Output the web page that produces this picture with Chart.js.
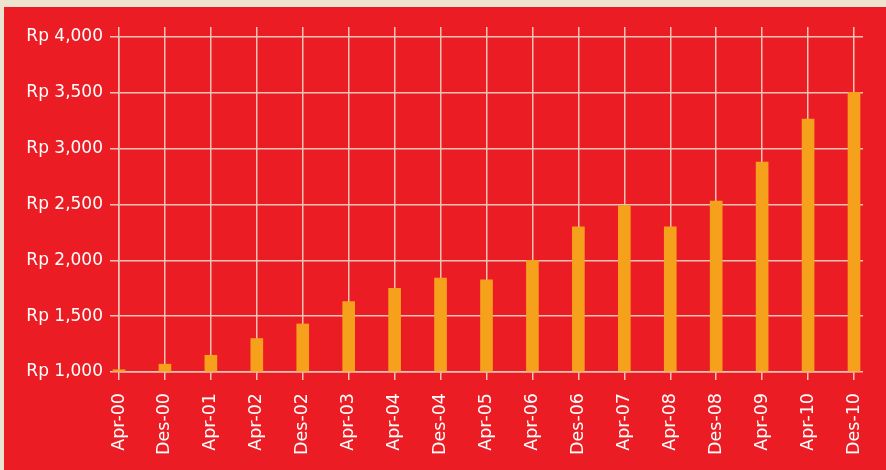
<!DOCTYPE html>
<html>
<head>
<meta charset="utf-8">
<script src="https://cdn.jsdelivr.net/npm/chart.js@4"></script>
<style>
  html, body { margin: 0; padding: 0; background: #ede4cf; }
  #panel { position: absolute; left: 4px; top: 7px; width: 882px; height: 463px; background: #ec1c24; }
</style>
</head>
<body>
<div id="panel"><canvas id="grafik"></canvas></div>
<script>
// ---------------- DATA ----------------
const periode = ['Apr-00', 'Des-00', 'Apr-01', 'Apr-02', 'Des-02', 'Apr-03', 'Apr-04', 'Des-04', 'Apr-05',
                 'Apr-06', 'Des-06', 'Apr-07', 'Apr-08', 'Des-08', 'Apr-09', 'Apr-10', 'Des-10'];
const nilai = [1020, 1070, 1150, 1300, 1430, 1630, 1750, 1840, 1825,
               2000, 2300, 2490, 2300, 2530, 2880, 3265, 3505];
const sumbuMin = 1000;
const sumbuMax = 4000;
const langkah = 500;

const garis = '#f0c4b4';
const putih = '#ffffff';

function rupiah(v) {
    return 'Rp ' + v.toLocaleString('en-US');
}

new Chart(document.getElementById('grafik'), {
    type: 'bar',
    data: {
        labels: periode,
        datasets: [{
            data: nilai,
            base: sumbuMin,            // batang mulai dari garis Rp 1,000
            backgroundColor: '#f5a11c',
            barThickness: 12,
            clip: false
        }]
    },
    options: {
        responsive: true,
        maintainAspectRatio: false,
        animation: false,
        layout: { padding: { top: 20, right: 23, bottom: 0, left: 0 } },
        plugins: { legend: { display: false }, tooltip: { enabled: false } },
        scales: {
            x: {
                offset: false,
                grid: { offset: false, color: garis, lineWidth: 1.5, tickLength: 8 },
                border: { color: garis, width: 1.5 },
                ticks: {
                    color: putih, minRotation: 90, maxRotation: 90, autoSkip: false, padding: 13,
                    font: { family: 'DejaVu Sans', size: 17.5 }
                },
                afterFit: s => { s.height = 98; s.paddingLeft = 0; s.paddingRight = 0; }
            },
            x2: {
                position: 'top',
                offset: false,
                labels: periode,
                grid: { offset: false, color: garis, lineWidth: 1.5, tickLength: 10, drawOnChartArea: false },
                border: { display: false },
                ticks: { display: false },
                afterFit: s => { s.height = 10; }
            },
            y: {
                min: sumbuMin,
                max: sumbuMax,
                beginAtZero: false,
                grid: { color: garis, lineWidth: 1.5, tickLength: 9 },
                border: { color: garis, width: 1.5 },
                ticks: {
                    stepSize: langkah, color: putih, padding: 7,
                    font: { family: 'DejaVu Sans', size: 17 },
                    callback: v => rupiah(v)
                },
                afterFit: s => { s.width = 115; }
            },
            y2: {
                position: 'right',
                min: sumbuMin,
                max: sumbuMax,
                beginAtZero: false,
                grid: { color: garis, lineWidth: 1.5, tickLength: 9, drawOnChartArea: false },
                border: { display: false },
                ticks: { stepSize: langkah, display: false },
                afterFit: s => { s.width = 9; }
            }
        }
    }
});
</script>
</body>
</html>
